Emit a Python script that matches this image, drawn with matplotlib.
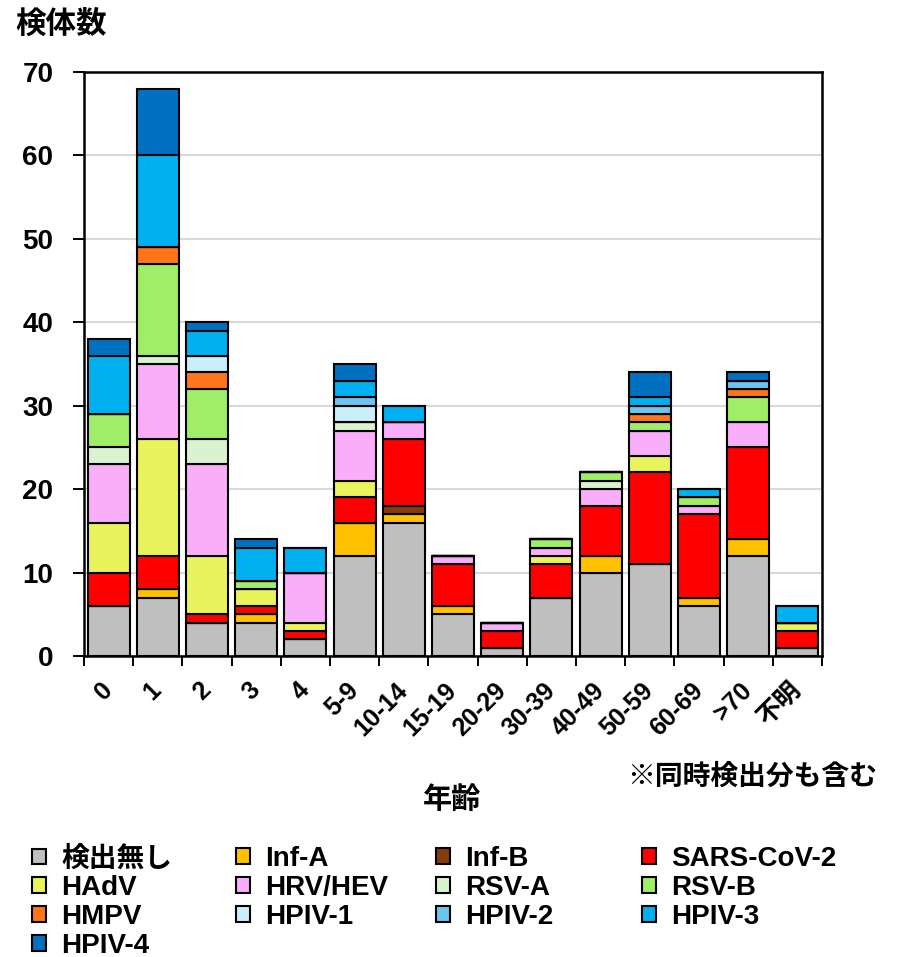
import matplotlib
matplotlib.use('Agg')
import matplotlib.pyplot as plt
import numpy as np

plt.rcParams['font.family'] = ['Liberation Sans', 'Noto Sans CJK JP']
plt.rcParams['font.weight'] = 'bold'

ages = ['0', '1', '2', '3', '4', '5-9', '10-14', '15-19', '20-29', '30-39',
        '40-49', '50-59', '60-69', '>70', '不明']

series = ['検出無し', 'Inf-A', 'Inf-B', 'SARS-CoV-2', 'HAdV', 'HRV/HEV', 'RSV-A',
          'RSV-B', 'HMPV', 'HPIV-1', 'HPIV-2', 'HPIV-3', 'HPIV-4']

colors = ['#BFBFBF', '#FFC000', '#843C0C', '#FF0000', '#E9F35B', '#F9AEFA',
          '#DAF3CF', '#A0EE68', '#FF761A', '#CBEEFB', '#6CC4F0', '#00B0F0',
          '#0070C0']

# counts per age group
none_ = [6, 7, 4, 4, 2, 12, 16, 5, 1, 7, 10, 11, 6, 12, 1]
inf_a = [0, 1, 0, 1, 0, 4, 1, 1, 0, 0, 2, 0, 1, 2, 0]
inf_b = [0, 0, 0, 0, 0, 0, 1, 0, 0, 0, 0, 0, 0, 0, 0]
sars = [4, 4, 1, 1, 1, 3, 8, 5, 2, 4, 6, 11, 10, 11, 2]
hadv = [6, 14, 7, 2, 1, 2, 0, 0, 0, 1, 0, 2, 0, 0, 1]
hrv = [7, 9, 11, 0, 6, 6, 2, 1, 1, 1, 2, 3, 1, 3, 0]
rsv_a = [2, 1, 3, 0, 0, 1, 0, 0, 0, 0, 1, 0, 0, 0, 0]
rsv_b = [4, 11, 6, 1, 0, 0, 0, 0, 0, 1, 1, 1, 1, 3, 0]
hmpv = [0, 2, 2, 0, 0, 0, 0, 0, 0, 0, 0, 1, 0, 1, 0]
hpiv1 = [0, 0, 2, 0, 0, 2, 0, 0, 0, 0, 0, 0, 0, 0, 0]
hpiv2 = [0, 0, 0, 0, 0, 1, 0, 0, 0, 0, 0, 1, 0, 1, 0]
hpiv3 = [7, 11, 3, 4, 3, 2, 2, 0, 0, 0, 0, 1, 1, 0, 2]
hpiv4 = [2, 8, 1, 1, 0, 2, 0, 0, 0, 0, 0, 3, 0, 1, 0]

data = [none_, inf_a, inf_b, sars, hadv, hrv, rsv_a, rsv_b, hmpv,
        hpiv1, hpiv2, hpiv3, hpiv4]

fig = plt.figure(figsize=(8.97, 9.57), dpi=100)
ax = fig.add_axes([84 / 897, 1 - 656 / 957, 738 / 897, 584 / 957])

x = np.arange(len(ages))
bottom = np.zeros(len(ages))
handles = []
for name, vals, c in zip(series, data, colors):
    vals = np.array(vals, dtype=float)
    b = ax.bar(x, vals, 0.85, bottom=bottom, color=c, edgecolor='black',
               linewidth=1.5, label=name, zorder=3)
    handles.append(b)
    bottom += vals

ax.set_xlim(-0.5, len(ages) - 0.5)
ax.set_ylim(0, 70)
ax.set_yticks(range(0, 71, 10))
ax.yaxis.grid(True, color='#D9D9D9', linewidth=1.5, zorder=0)
ax.set_axisbelow(True)

for s in ax.spines.values():
    s.set_linewidth(1.8)

ax.set_xticks(x)
ax.set_xticklabels(ages, rotation=45, ha='right', va='center',
                   rotation_mode='anchor', fontsize=18, fontweight='bold')
ax.set_xticks(np.arange(-0.5, len(ages), 1), minor=True)
ax.tick_params(axis='x', which='major', length=0, pad=22)
ax.tick_params(axis='x', which='minor', length=7, width=1.4)
ax.tick_params(axis='y', length=8, width=1.4, labelsize=20, pad=14)
for t in ax.get_yticklabels():
    t.set_fontweight('bold')

fig.text(15 / 897, 1 - 25 / 957, '検体数', fontsize=22, fontweight='bold',
         va='center', ha='left')
fig.text(452 / 897, 1 - 800 / 957, '年齢', fontsize=21, fontweight='bold',
         va='center', ha='center')
fig.text(877 / 897, 1 - 778 / 957, '※同時検出分も含む', fontsize=20,
         fontweight='bold', va='center', ha='right')

# legend: 4 columns, row-major order
col_x = [32, 236, 436, 642]
for j in range(4):
    idx = list(range(j, len(series), 4))
    leg = fig.legend([handles[i] for i in idx], [series[i] for i in idx],
                     loc='upper left', bbox_to_anchor=(col_x[j] / 897, 1 - 846 / 957),
                     frameon=False, fontsize=20, handlelength=0.5,
                     handleheight=0.5, handletextpad=0.55, labelspacing=0.1,
                     borderpad=0, borderaxespad=0)
    for t in leg.get_texts():
        t.set_fontweight('bold')

fig.savefig('out.png', dpi=100)
